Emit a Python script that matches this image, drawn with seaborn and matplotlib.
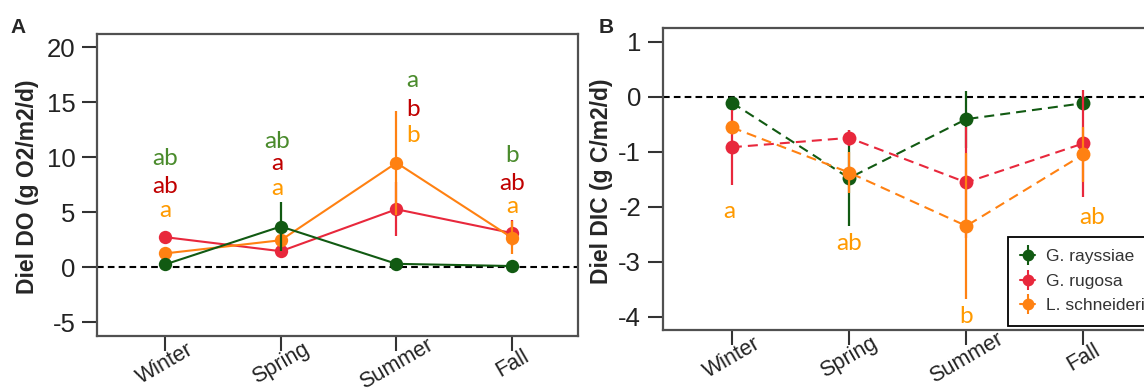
import numpy as np
import pandas as pd
import matplotlib
matplotlib.use("Agg")
import matplotlib.pyplot as plt
from matplotlib.lines import Line2D
from matplotlib.legend_handler import HandlerTuple
import seaborn as sns

# ---- data -------------------------------------------------------------
seasons = ["Winter", "Spring", "Summer", "Fall"]
species = ["G. rayssiae", "G. rugosa", "L. schneideri"]

# Diel dissolved oxygen (g O2/m2/d), mean and error
do_rayssiae = [0.25, 3.7, 0.3, 0.1]
do_rayssiae_err = [0.3, 2.25, 0.3, 0.2]
do_rugosa = [2.73, 1.45, 5.27, 3.1]
do_rugosa_err = [0.4, 0.4, 2.45, 1.2]
do_schneideri = [1.25, 2.45, 9.5, 2.67]
do_schneideri_err = [0.4, 0.5, 4.75, 1.5]

# Diel dissolved inorganic carbon (g C/m2/d), mean and error
dic_rayssiae = [-0.11, -1.48, -0.41, -0.12]
dic_rayssiae_err = [0.1, 0.88, 0.52, 0.1]
dic_rugosa = [-0.92, -0.75, -1.56, -0.85]
dic_rugosa_err = [0.68, 0.15, 1.0, 0.97]
dic_schneideri = [-0.56, -1.38, -2.35, -1.05]
dic_schneideri_err = [0.1, 0.38, 1.33, 0.5]

# significance letters per season
do_letters_rayssiae = ["ab", "ab", "a", "b"]
do_letters_rugosa = ["ab", "a", "b", "ab"]
do_letters_schneideri = ["a", "a", "b", "a"]
dic_letters_schneideri = ["a", "ab", "b", "ab"]

# ---- styling ------------------------------------------------------------
sns.set_theme(style="white")
plt.rcParams["font.family"] = ["Liberation Sans", "DejaVu Sans"]

marker_colors = {"G. rayssiae": "#115a12", "G. rugosa": "#e8283c", "L. schneideri": "#ff8112"}
letter_colors = {"G. rayssiae": "#4a8b2c", "G. rugosa": "#c00000", "L. schneideri": "#ff9a00"}
letter_font = ["Lato", "DejaVu Sans"]

W, H = 1144, 390
fig = plt.figure(figsize=(W / 100, H / 100), dpi=100)


def px_axes(left, top, right, bottom):
    return fig.add_axes([left / W, 1 - bottom / H, (right - left) / W, (bottom - top) / H])


axA = px_axes(97, 34.3, 578, 336)
axB = px_axes(662.7, 28.3, 1150.3, 330)

x = np.arange(len(seasons))


def long_frame(means, errs):
    rows = []
    for sp, m, e in zip(species, means, errs):
        for i, s in enumerate(seasons):
            rows.append({"species": sp, "season": s, "pos": i, "value": m[i], "err": e[i]})
    return pd.DataFrame(rows)


dfA = long_frame([do_rayssiae, do_rugosa, do_schneideri],
                 [do_rayssiae_err, do_rugosa_err, do_schneideri_err])
dfB = long_frame([dic_rayssiae, dic_rugosa, dic_schneideri],
                 [dic_rayssiae_err, dic_rugosa_err, dic_schneideri_err])


def draw_series(ax, df, order, linestyle, ms):
    for z, sp in enumerate(order):
        sub = df[df["species"] == sp]
        c = marker_colors[sp]
        ax.errorbar(sub["pos"], sub["value"], yerr=sub["err"], fmt="none",
                    ecolor=c, elinewidth=1.6, capsize=0, zorder=3 + 2 * z)
        sns.lineplot(data=sub, x="pos", y="value", ax=ax, color=c, marker="o",
                     markersize=ms, markeredgewidth=0, linewidth=1.5,
                     legend=False, errorbar=None, zorder=4 + 2 * z)
        ax.lines[-1].set_linestyle(linestyle)


draw_series(axA, dfA, ["G. rugosa", "L. schneideri", "G. rayssiae"], "-", 9.6)
draw_series(axB, dfB, ["G. rayssiae", "G. rugosa", "L. schneideri"], (0, (4.8, 2.9)), 10)

for ax in (axA, axB):
    ax.axhline(0, color="black", lw=1.5, ls=(0, (3.2, 2.0)), zorder=1)
    ax.set_xlim(-0.59, 3.57)
    ax.set_xticks(x)
    ax.set_xticklabels(seasons, rotation=30, ha="center", va="center",
                       rotation_mode="default", fontsize=15.5, color="#222222")
    ax.tick_params(axis="x", length=11, width=1.5, pad=9, color="#333333", direction="out",
                   bottom=True)
    ax.tick_params(axis="y", length=11, width=1.5, pad=4.5, color="#333333", direction="out",
                   left=True)
    for s in ax.spines.values():
        s.set_color("#505050")
        s.set_linewidth(1.6)
    ax.set_xlabel("")
    ax.set_ylabel("")

axA.set_ylim(-6.27, 21.2)
axA.set_yticks([-5, 0, 5, 10, 15, 20])
axA.set_yticklabels(["-5", "0", "5", "10", "15", "20"], fontsize=18.5, color="#222222")
axB.set_ylim(-4.24, 1.24)
axB.set_yticks([-4, -3, -2, -1, 0, 1])
axB.set_yticklabels(["-4", "-3", "-2", "-1", "0", "1"], fontsize=18.5, color="#222222")

axA.set_ylabel("Diel DO (g O2/m2/d)", fontsize=16.5, fontweight="bold")
axB.set_ylabel("Diel DIC (g C/m2/d)", fontsize=16.5, fontweight="bold")
for ax, (lx, ly) in ((axA, (-0.1435, 0.495)), (axB, (-0.1265, 0.4915))):
    ax.yaxis.label.set(ha="center", va="center", rotation_mode="default")
    ax.yaxis.set_label_coords(lx, ly)

# significance letters (baseline positions in data units)
letters_A = [
    ("G. rayssiae", do_letters_rayssiae, [9.3, 10.85, 16.4, 9.6]),
    ("G. rugosa", do_letters_rugosa, [6.75, 8.8, 13.8, 7.0]),
    ("L. schneideri", do_letters_schneideri, [4.6, 6.6, 11.4, 4.95]),
]
shift_A = [0.0, -0.03, 0.14, 0.0]
for sp, labs, ys in letters_A:
    for i, (lab, yy) in enumerate(zip(labs, ys)):
        axA.text(x[i] + shift_A[i], yy, lab, ha="center", va="baseline", fontsize=17.5,
                 color=letter_colors[sp], family=letter_font, zorder=10)

shift_B = [-0.02, 0.0, 0.0, 0.07]
base_B = [-2.21, -2.79, -4.12, -2.31]
for i, (lab, yy) in enumerate(zip(dic_letters_schneideri, base_B)):
    axB.text(x[i] + shift_B[i], yy, lab, ha="center", va="baseline", fontsize=17.5,
             color=letter_colors["L. schneideri"], family=letter_font, zorder=10)

# legend with marker + error-bar style handles
handles = []
for sp in species:
    c = marker_colors[sp]
    h1 = Line2D([], [], color=c, lw=1.5, marker="o", ms=8.5, mew=0)
    h2 = Line2D([], [], color=c, ls="none", marker="|", ms=15, mew=1.5)
    handles.append((h1, h2))
leg = axB.legend(handles, species, handler_map={tuple: HandlerTuple(ndivide=1)},
                 loc="upper left", bbox_to_anchor=(1008.3 / W, 1 - 236.7 / H),
                 bbox_transform=fig.transFigure, borderaxespad=0, frameon=True,
                 fancybox=False, edgecolor="black", framealpha=1, fontsize=12.5,
                 handlelength=0.85, handletextpad=0.6, borderpad=0.7, labelspacing=0.55)
leg.get_frame().set_linewidth(1.3)
for t in leg.get_texts():
    t.set_color("#333333")
leg.set_zorder(20)

fig.text(10 / W, 1 - 33.3 / H, "A", fontsize=15, fontweight="bold", ha="left", va="baseline")
fig.text(598.3 / W, 1 - 33.3 / H, "B", fontsize=15, fontweight="bold", ha="left", va="baseline")

fig.savefig("out.png", dpi=100)
